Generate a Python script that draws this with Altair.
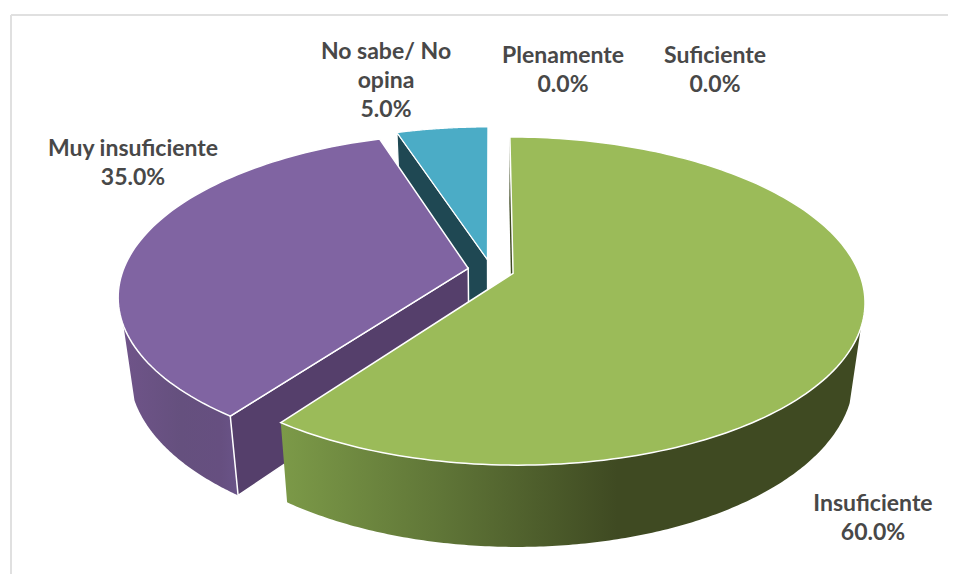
import math
import altair as alt
import pandas as pd

# --- chart values -------------------------------------------------------
categories = ["Insuficiente", "Muy insuficiente", "No sabe/ No opina", "Plenamente", "Suficiente"]
label_text = ["Insuficiente", "Muy insuficiente", "No sabe/ No\nopina", "Plenamente", "Suficiente"]
values = [60.0, 35.0, 5.0, 0.0, 0.0]

W, H = 940, 566
CX, CY = 491.0, 270.0
K, A, C = 345.0, 158.3, 0.1686      # perspective of the top disc
BS, BY, BC, BD = 0.97, 1.05, 0.1686, 72.0  # bottom disc relative to the top
EXPLODE = 0.067
GREEN_SIDE_FROM = 109.0   # first angle of the visible outer wall
PURPLE_SIDE_TO = 250.0    # last angle of the visible outer wall


def top(x, y):
    w = 1 + C * y
    return CX + K * x / w, CY - A * y / w


def bottom(x, y):
    w = 1 + BC * y
    return CX + BS * K * x / w, CY - BY * A * y / w + BD


def wedge(start, end):
    mid = math.radians((start + end) / 2)
    return EXPLODE * math.sin(mid), EXPLODE * math.cos(mid)


def rim(start, end, ox, oy, proj, n=90):
    pts = []
    for j in range(n + 1):
        a = math.radians(start + (end - start) * j / n)
        pts.append(proj(ox + math.sin(a), oy + math.cos(a)))
    return pts


def table(pts):
    return pd.DataFrame({"px": [p[0] for p in pts], "py": [p[1] for p in pts], "i": range(len(pts))})


xs = alt.X("px:Q", scale=alt.Scale(domain=[8, 8 + W], range=[0, W]), axis=None)
ys = alt.Y("py:Q", scale=alt.Scale(domain=[8, 8 + H], range=[0, H]), axis=None)


def poly(pts, fill, stroke="transparent", sw=0):
    return alt.Chart(table(pts)).mark_line(
        fill=fill, stroke=stroke, strokeWidth=sw, interpolate="linear-closed", clip=False
    ).encode(x=xs, y=ys, order="i:Q")


def grad(stops):
    return alt.Gradient(
        gradient="linear", x1=0, x2=1, y1=0, y2=0,
        stops=[alt.GradientStop(offset=o, color=c) for o, c in stops],
    )


# slice angles from the values
angles = []
acc = 0.0
for v in values[:3]:
    angles.append((acc * 3.6, (acc + v) * 3.6))
    acc += v

layers = []
# frame
layers.append(alt.Chart(pd.DataFrame({"a": [0]})).mark_rule(color="#e0e0e0", strokeWidth=2).encode(
    x=alt.value(3), x2=alt.value(W), y=alt.value(7)))
layers.append(alt.Chart(pd.DataFrame({"a": [0]})).mark_rule(color="#e0e0e0", strokeWidth=2).encode(
    x=alt.value(3), y=alt.value(7), y2=alt.value(H)))

# blue slice
s, e = angles[2]
ox, oy = wedge(s, e)
apex_t, apex_b = top(ox, oy), bottom(ox, oy)
rb_t = rim(s, e, ox, oy, top)
rb_b = rim(s, e, ox, oy, bottom)
layers.append(poly([apex_t, rb_t[0], rb_b[0], apex_b], "#1f4853", "white", 1.2))
layers.append(poly([apex_t] + rb_t, "#4bacc6", "white", 1.2))

# purple slice
s, e = angles[1]
ox, oy = wedge(s, e)
apex_t, apex_b = top(ox, oy), bottom(ox, oy)
rp_t = rim(s, e, ox, oy, top)
rp_b = rim(s, e, ox, oy, bottom)
wall_t = rim(s, PURPLE_SIDE_TO, ox, oy, top)
wall_b = rim(s, PURPLE_SIDE_TO, ox, oy, bottom)
layers.append(poly(wall_t + wall_b[::-1], grad([(0, "#6f5489"), (0.5, "#65507e"), (0.85, "#664f80"), (1, "#6a5488")])))
layers.append(poly([apex_t, rp_t[0], rp_b[0], apex_b], "#553f6b", "white", 1.5))
layers.append(poly([apex_t] + rp_t, "#8064a2", "white", 1.5))

# green slice
s, e = angles[0]
ox, oy = wedge(s, e)
apex_t, apex_b = top(ox, oy), bottom(ox, oy)
rg_t = rim(s, e, ox, oy, top, 180)
rg_b = rim(s, e, ox, oy, bottom, 180)
wall_t = rim(GREEN_SIDE_FROM, e, ox, oy, top, 180)
wall_b = rim(GREEN_SIDE_FROM, e, ox, oy, bottom, 180)
layers.append(poly([apex_t, rg_t[0], rg_b[0], apex_b], "#3f4a22"))
layers.append(poly(wall_t + wall_b[::-1], grad([(0, "#7c9a48"), (0.28, "#5f7537"), (0.58, "#3f4a22"), (1, "#3f4a22")])))
layers.append(poly([apex_t] + rg_t, "#9bbb59", "white", 1.5))

# labels (y is that of the first line)
label_pos = {
    "Insuficiente": (873, 504),
    "Muy insuficiente": (133, 149),
    "No sabe/ No opina": (386, 52),
    "Plenamente": (563, 56),
    "Suficiente": (715, 56),
}
for cat, txt, v in zip(categories, label_text, values):
    px, py = label_pos[cat]
    layers.append(
        alt.Chart(pd.DataFrame({"t": [f"{txt}\n{v:.1f}%"]})).mark_text(
            font="Lato", fontWeight="bold", fontSize=23, color="#484848",
            lineBreak="\n", lineHeight=29, align="center", baseline="middle",
        ).encode(text="t:N", x=alt.value(px - 8), y=alt.value(py - 8))
    )

chart = alt.layer(*layers).properties(
    width=W, height=H, padding=0, autosize=alt.AutoSizeParams(type="none"),
    background="white",
).configure_view(stroke=None)

chart.save("out.html", embed_options={"renderer": "svg", "actions": False})
